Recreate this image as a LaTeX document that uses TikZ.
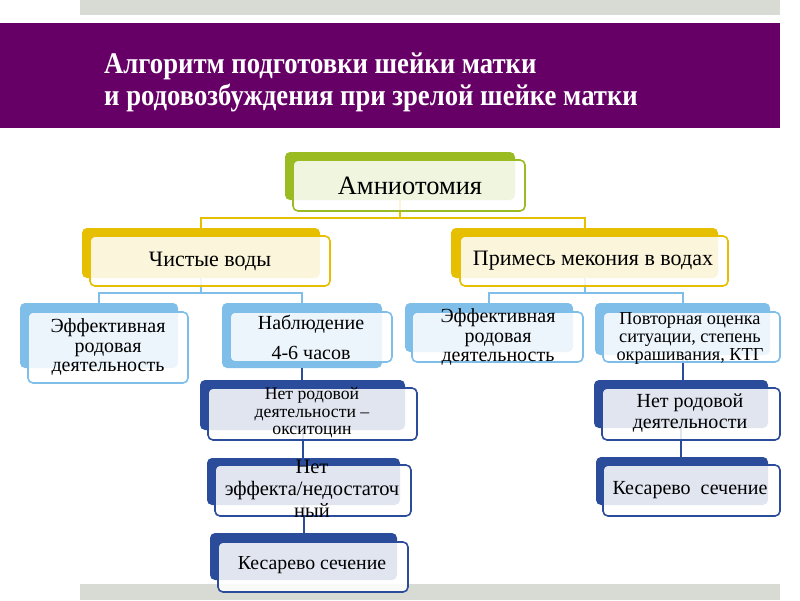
\documentclass[tikz,border=0pt]{standalone}
\usepackage{fontspec}
\setmainfont{Liberation Serif}
\definecolor{cGray}{HTML}{D8DBD3}
\definecolor{cPurple}{HTML}{660066}
\definecolor{cGreen}{HTML}{9ABB22}
\definecolor{cYellow}{HTML}{E6BF00}
\definecolor{cLBlue}{HTML}{80BEEA}
\definecolor{cDBlue}{HTML}{2B4C9B}
\newcommand\bx[6]{\node[#6, inner sep=0pt, outer sep=0pt, minimum width={(#4)-(#2)}, minimum height={(#5)-(#3)}] (#1) at ({((#2)+(#4))/2},{((#3)+(#5))/2}) {};}
\newcommand\fs[2]{\fontsize{#1}{#2}\selectfont}
\begin{document}
\begin{tikzpicture}[x=1pt,y=-1pt,
  backbox/.style={fill=#1, rounded corners=5pt},
  frontbox/.style={draw=#1, line width=1.6pt, fill=white, fill opacity=0.86, draw opacity=1, rounded corners=5pt},
  conn/.style={draw=#1, line width=2pt},
  lbl/.style={align=center, inner sep=0pt, text=black}]
\useasboundingbox (0,0) rectangle (800,600);
\fill[cGray] (80,0) rectangle (780,15);
\fill[cGray] (80,584) rectangle (780,600);
\fill[cPurple] (0,23) rectangle (780,128);
\node[anchor=west, text=white, align=left, inner sep=0pt, font=\bfseries\fs{30}{32}] (title) at (104,82) {\scalebox{0.89}[1]{Алгоритм подготовки шейки матки}\\\scalebox{0.89}[1]{и родовозбуждения при зрелой шейке матки}};

% back boxes
\bx{amnB}{285}{152}{515}{200}{backbox=cGreen}
\bx{chB}{82}{228}{320}{278}{backbox=cYellow}
\bx{prB}{451}{228}{718}{278}{backbox=cYellow}
\bx{ef1B}{20}{303}{178}{368}{backbox=cLBlue}
\bx{nabB}{222}{303}{382}{368}{backbox=cLBlue}
\bx{ef2B}{405}{303}{573}{352}{backbox=cLBlue}
\bx{povB}{595}{303}{770}{355}{backbox=cLBlue}
\bx{nr1B}{200}{380}{405}{430}{backbox=cDBlue}
\bx{neB}{207}{458}{400}{505}{backbox=cDBlue}
\bx{ks1B}{210}{533}{397}{580}{backbox=cDBlue}
\bx{nr2B}{594}{380}{768}{428}{backbox=cDBlue}
\bx{ks2B}{596}{457}{768}{505}{backbox=cDBlue}

% connectors
\draw[conn=cYellow] (amnB.south) -- ++(0,18) -| (chB.north);
\draw[conn=cYellow] (amnB.south) -- ++(0,18) -| (prB.north);
\draw[conn=cLBlue] (chB.south) -- ++(0,15) -| (ef1B.north);
\draw[conn=cLBlue] (chB.south) -- ++(0,15) -| (nabB.north);
\draw[conn=cLBlue] (prB.south) -- ++(0,15) -| (ef2B.north);
\draw[conn=cLBlue] (prB.south) -- ++(0,15) -| (povB.north);
\draw[conn=cDBlue] (nabB.south) -- (nabB.south |- nr1B.north);
\draw[conn=cDBlue] (nr1B.south) -- (nr1B.south |- neB.north);
\draw[conn=cDBlue] (neB.south) -- (neB.south |- ks1B.north);
\draw[conn=cDBlue] (povB.south) -- (povB.south |- nr2B.north);
\draw[conn=cDBlue] (nr2B.south) -- (nr2B.south |- ks2B.north);

% front boxes
\bx{amn}{293}{160}{525}{211}{frontbox=cGreen}
\bx{ch}{90}{236}{330}{286}{frontbox=cYellow}
\bx{pr}{460}{236}{728}{286}{frontbox=cYellow}
\bx{ef1}{28}{312}{188}{383}{frontbox=cLBlue}
\bx{nab}{230}{312}{392}{362}{frontbox=cLBlue}
\bx{ef2}{412}{312}{583}{362}{frontbox=cLBlue}
\bx{pov}{603}{312}{780}{362}{frontbox=cLBlue}
\bx{nr1}{208}{388}{417}{440}{frontbox=cDBlue}
\bx{ne}{215}{465}{411}{516}{frontbox=cDBlue}
\bx{ks1}{218}{542}{408}{592}{frontbox=cDBlue}
\bx{nr2}{602}{388}{780}{440}{frontbox=cDBlue}
\bx{ks2}{603}{465}{780}{516}{frontbox=cDBlue}

% labels
\node[lbl, font=\fs{26.5}{30}] (tamn) at (410,186) {Амниотомия};
\node[lbl, font=\fs{22}{25}] (tch) at (210,261) {Чистые воды};
\node[lbl, font=\fs{22}{25}] (tpr) at (593,261) {Примесь мекония в водах};
\node[lbl, font=\fs{20}{19.5}] (tef1) at (108,347) {Эффективная\\родовая\\деятельность};
\node[lbl, font=\fs{20}{30}] (tnab) at (311,337) {Наблюдение\\4-6 часов};
\node[lbl, font=\fs{20}{19.5}] (tef2) at (498,337) {Эффективная\\родовая\\деятельность};
\node[lbl, font=\fs{18.3}{18}] (tpov) at (690,338) {Повторная оценка\\ситуации, степень\\окрашивания, КТГ};
\node[lbl, font=\fs{17.7}{17.5}] (tnr1) at (312,413) {Нет родовой\\деятельности –\\окситоцин};
\node[lbl, font=\fs{20.5}{22}] (tne) at (312,489) {Нет\\эффекта/недостаточ\\ный};
\node[lbl, font=\fs{19.8}{22}] (tks1) at (312,565) {Кесарево сечение};
\node[lbl, font=\fs{20}{21}] (tnr2) at (690,413) {Нет родовой\\деятельности};
\node[lbl, font=\fs{20}{22}] (tks2) at (690,490) {Кесарево\ \ сечение};
\end{tikzpicture}
\end{document}
